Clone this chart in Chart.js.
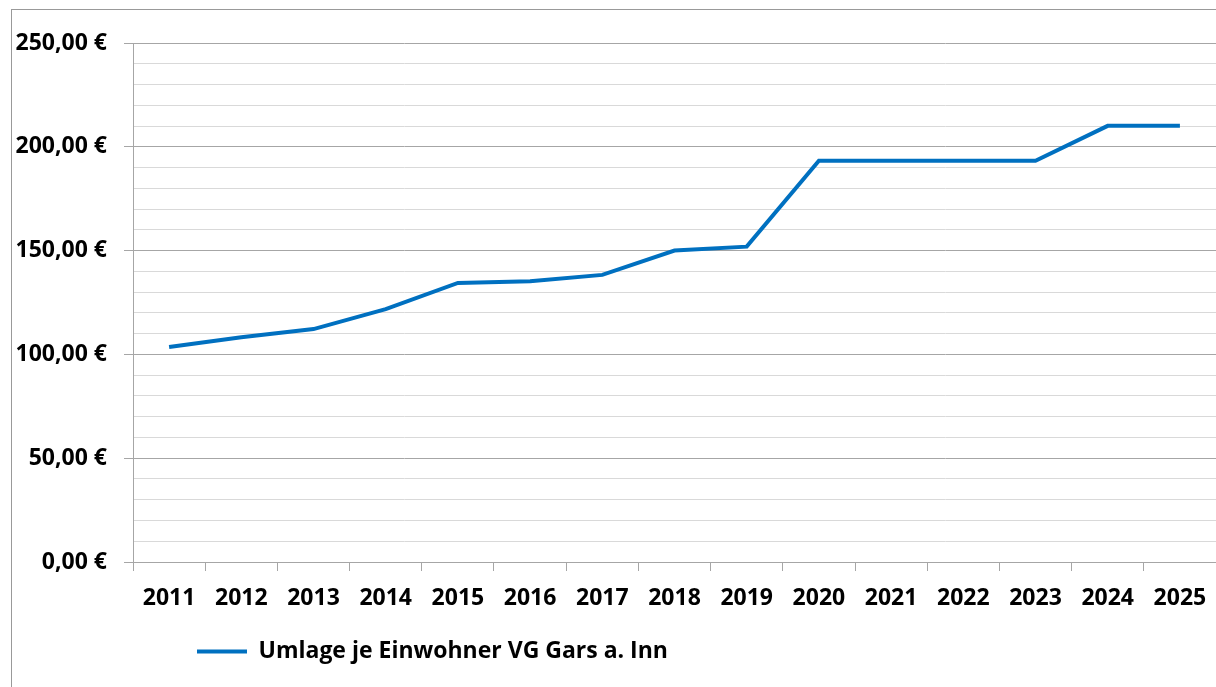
<!DOCTYPE html>
<html>
<head>
<meta charset="utf-8">
<script src="https://cdn.jsdelivr.net/npm/chart.js@4/dist/chart.umd.min.js"></script>
<style>
  html, body { margin: 0; padding: 0; background: #fff; overflow: hidden; }
  #wrap { width: 1216px; height: 687px; position: relative; }
</style>
</head>
<body>
<div id="wrap"><canvas id="umlage"></canvas></div>
<script>
const YEARS = ["2011", "2012", "2013", "2014", "2015", "2016", "2017", "2018",
  "2019", "2020", "2021", "2022", "2023", "2024", "2025"];
const UMLAGE = [103.6, 108.3, 112.2, 121.8, 134.4, 135.2, 138.3, 150.0,
  151.9, 193.3, 193.3, 193.3, 193.3, 210.1, 210.1];
const SERIES_LABEL = "Umlage je Einwohner VG Gars a. Inn";
const Y_MIN = 0;
const Y_MAX = 250;
const Y_STEP = 10;
const Y_MAJOR = 50;

const BLUE = "rgb(0, 112, 192)";
const MAJOR_GRID = "#a6a6a6";
const MINOR_GRID = "#d9d9d9";
const FONT = { family: "'Open Sans', sans-serif", size: 23, weight: "bold" };

const isMajor = (v) => v % Y_MAJOR === 0;
const euro = (v) => v.toFixed(2).replace(".", ",") + " €";

// frame round the chart like the Excel chart border, and legend placement
const framePlugin = {
  id: "frame",
  afterLayout(chart) {
    chart.legend.left = 187;
    chart.legend.top = 630;
  },
  beforeDraw(chart) {
    const ctx = chart.ctx;
    ctx.save();
    ctx.fillStyle = "#fff";
    ctx.fillRect(0, 0, chart.width, chart.height);
    ctx.strokeStyle = "#999";
    ctx.lineWidth = 1;
    ctx.strokeRect(11.5, 9.5, 1400, 900);
    ctx.restore();
  },
};

let ctxUmlage = document.getElementById("umlage");

const umlageChart = new Chart(ctxUmlage, {
  type: "line",
  data: {
    labels: YEARS,
    datasets: [
      {
        label: SERIES_LABEL,
        data: UMLAGE,
        borderColor: BLUE,
        backgroundColor: BLUE,
        borderWidth: 4,
        pointRadius: 0,
        tension: 0,
      },
    ],
  },
  options: {
    responsive: true,
    maintainAspectRatio: false,
    animation: false,
    layout: { padding: { top: 43, left: 12, right: 0, bottom: 16 } },
    plugins: {
      legend: {
        position: "bottom",
        align: "start",
        labels: {
          usePointStyle: true,
          pointStyle: "line",
          pointStyleWidth: 50,
          padding: 10,
          color: "#000",
          font: FONT,
        },
      },
      tooltip: { enabled: false },
    },
    scales: {
      x: {
        offset: true,
        grid: {
          offset: true,
          drawOnChartArea: false,
          drawTicks: true,
          tickLength: 9,
          tickColor: MAJOR_GRID,
        },
        border: { color: MAJOR_GRID },
        ticks: { color: "#000", font: FONT, padding: 14, maxRotation: 0 },
        afterFit(scale) {
          scale.height = 66;
          scale.paddingLeft = 0;
          scale.paddingRight = 0;
        },
      },
      y: {
        min: Y_MIN,
        max: Y_MAX,
        grid: {
          color: (c) => (isMajor(c.tick.value) ? MAJOR_GRID : MINOR_GRID),
          tickColor: (c) => (isMajor(c.tick.value) ? MAJOR_GRID : "rgba(0,0,0,0)"),
          tickLength: 9,
        },
        border: { color: MAJOR_GRID },
        ticks: {
          stepSize: Y_STEP,
          color: "#000",
          font: FONT,
          padding: 17,
          autoSkip: false,
          callback: (v) => (isMajor(v) ? euro(v) : ""),
        },
        afterFit(scale) { scale.width = 121; },
      },
    },
  },
  plugins: [framePlugin],
});
</script>
</body>
</html>
